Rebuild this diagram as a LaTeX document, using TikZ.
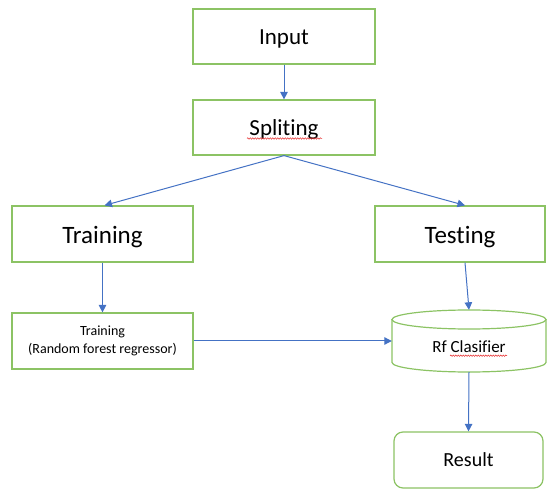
\documentclass[tikz,border=0pt]{standalone}
\usepackage{fontspec}
\setmainfont{Carlito}[Ligatures={NoCommon,NoContextual}]
\usetikzlibrary{arrows.meta,calc,decorations.pathmorphing}
\definecolor{boxgreen}{RGB}{140,195,100}
\definecolor{arrowblue}{RGB}{68,114,196}
\definecolor{spellred}{RGB}{230,40,40}
\newcommand{\basetxt}[2]{\raisebox{-#1}[0pt][0pt]{#2}}
\tikzset{
  flowbox/.style={draw=boxgreen, line width=1.2pt, fill=white, inner sep=0pt, align=center},
  flowarrow/.style={draw=arrowblue, line width=1pt, -{Triangle[width=7.5pt,length=7.5pt]}},
  spell/.style={draw=spellred, line width=0.5pt, decorate, decoration={snake, amplitude=0.7pt, segment length=2.5pt}}
}
\begin{document}
\begin{tikzpicture}[x=1pt,y=-1pt]
\useasboundingbox (0,0) rectangle (547,489);
\node[flowbox, minimum width=182pt, minimum height=55pt, font=\fontsize{23}{27}\selectfont] (in) at (284,36.5) {\basetxt{7.8pt}{Input}};
\node[flowbox, minimum width=182pt, minimum height=55pt, font=\fontsize{23}{27}\selectfont] (sp) at (284,127.5) {\basetxt{7.8pt}{Split\kern0pt ing}};
\node[flowbox, minimum width=181pt, minimum height=56pt, font=\fontsize{25}{29}\selectfont] (tr) at (102.5,234) {\basetxt{9.3pt}{Training}};
\node[flowbox, minimum width=170pt, minimum height=56pt, font=\fontsize{25}{29}\selectfont] (te) at (460,234) {\basetxt{9.3pt}{Testing}};
\node[flowbox, minimum width=181pt, minimum height=56pt, font=\fontsize{14}{18}\selectfont] (tr2) at (102.5,341) {Training\\(Random forest regressor)};
% cylinder
\node[minimum width=154pt, minimum height=62pt, inner sep=0pt] (rf) at (469,341) {};
\draw[boxgreen, line width=1.2pt] (392,319.5) -- (392,362.5) arc[start angle=180, end angle=360, x radius=77, y radius=-9.5] -- (546,319.5);
\draw[boxgreen, line width=1.2pt] (469,319.5) ellipse[x radius=77, y radius=9.5];
\node[font=\fontsize{17}{20}\selectfont, inner sep=0pt, anchor=base] (rft) at (469,352.7) {Rf Clasif\kern0pt ier};
\node[flowbox, rounded corners=9pt, minimum width=149pt, minimum height=56pt, font=\fontsize{20}{24}\selectfont] (res) at (468.5,460) {\basetxt{6.3pt}{Result}};
% spell-check underlines
\coordinate (spA) at ($(sp.center)+(-37,11)$);
\coordinate (spB) at ($(sp.center)+(38,11)$);
\draw[spell] (spA) -- (spB);
\coordinate (rfA) at ($(rft.base)+(-19,3)$);
\coordinate (rfB) at ($(rft.base)+(38,3)$);
\draw[spell] (rfA) -- (rfB);
% connectors
\draw[flowarrow] (in.south) -- (sp.north);
\draw[flowarrow] (sp.south) -- ($(tr.north)+(2,0)$);
\draw[flowarrow] (sp.south) -- ($(te.north)+(5,0)$);
\draw[flowarrow] (tr.south) -- (tr2.north);
\draw[flowarrow] ($(te.south)+(5,0)$) -- (rf.north);
\draw[flowarrow] (tr2.east) -- (rf.west);
\draw[flowarrow] (rf.south) -- (res.north);
\end{tikzpicture}
\end{document}
